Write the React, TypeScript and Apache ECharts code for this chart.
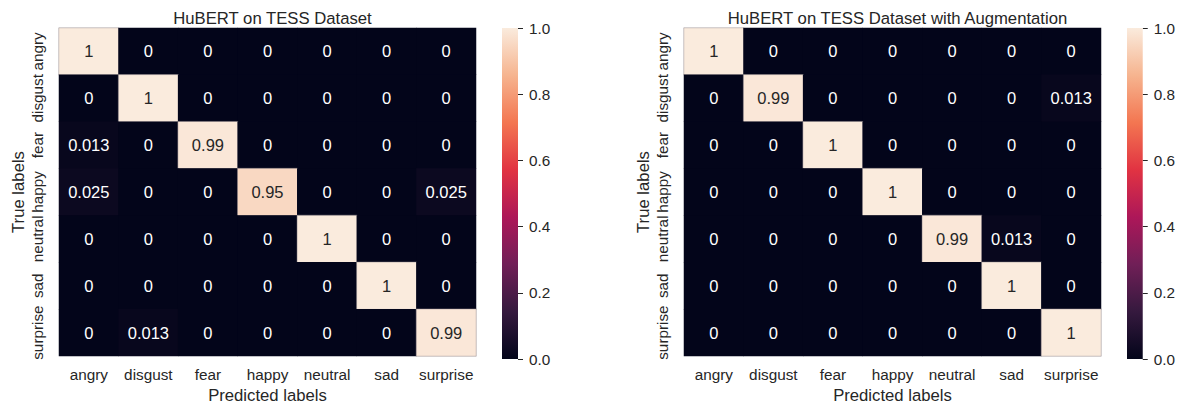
import React, { useEffect, useRef } from "react";
import * as echarts from "echarts";

const emotions = ["angry", "disgust", "fear", "happy", "neutral", "sad", "surprise"];

// Rows = true label, columns = predicted label
const baseMatrix: number[][] = [
  [1, 0, 0, 0, 0, 0, 0],
  [0, 1, 0, 0, 0, 0, 0],
  [0.013, 0, 0.99, 0, 0, 0, 0],
  [0.025, 0, 0, 0.95, 0, 0, 0.025],
  [0, 0, 0, 0, 1, 0, 0],
  [0, 0, 0, 0, 0, 1, 0],
  [0, 0.013, 0, 0, 0, 0, 0.99],
];

const augMatrix: number[][] = [
  [1, 0, 0, 0, 0, 0, 0],
  [0, 0.99, 0, 0, 0, 0, 0.013],
  [0, 0, 1, 0, 0, 0, 0],
  [0, 0, 0, 1, 0, 0, 0],
  [0, 0, 0, 0, 0.99, 0.013, 0],
  [0, 0, 0, 0, 0, 1, 0],
  [0, 0, 0, 0, 0, 0, 1],
];

const titles = ["HuBERT on TESS Dataset", "HuBERT on TESS Dataset with Augmentation"];
const colorbarTicks = [0, 0.2, 0.4, 0.6, 0.8, 1.0];

// seaborn "rocket" colormap
const rocket = ["#03051a", "#35193e", "#701f57", "#ad1759", "#e13342", "#f37651", "#f6b48f", "#faebdd"];

const FONT = '"Liberation Sans", Arial, sans-serif';
const INK = "#262626";

function cellData(matrix: number[][]) {
  const out: any[] = [];
  matrix.forEach((row, r) => {
    row.forEach((v, c) => {
      const light = v > 0.5;
      out.push({
        value: [c, r, v],
        label: { color: light ? INK : "#ffffff" },
        itemStyle: light ? { borderColor: "rgba(140,130,135,0.8)", borderWidth: 0.6 } : {},
      });
    });
  });
  return out;
}

const fmt = (v: number) => String(Number(v.toPrecision(2)));

export default function App() {
  const ref = useRef<HTMLDivElement>(null);

  useEffect(() => {
    if (!ref.current) return;
    const chart = echarts.init(ref.current, undefined, { renderer: "svg" });

    const heatGrids = [
      { left: 59, top: 28, width: 417, height: 331, show: true, backgroundColor: rocket[0], borderWidth: 0 },
      { left: 684, top: 28, width: 417, height: 331, show: true, backgroundColor: rocket[0], borderWidth: 0 },
    ];
    const barGrids = [
      { left: 502, top: 28, width: 16, height: 331 },
      { left: 1127, top: 28, width: 16, height: 331 },
    ];

    const xAxes: any[] = [];
    const yAxes: any[] = [];
    const series: any[] = [];

    [baseMatrix, augMatrix].forEach((m, i) => {
      xAxes.push({
        type: "category",
        gridIndex: i,
        data: emotions,
        axisLine: { show: false },
        axisTick: { show: false },
        splitLine: { show: false },
        axisLabel: { interval: 0, color: INK, fontSize: 15.3, fontFamily: FONT, margin: 11 },
        name: "Predicted labels",
        nameLocation: "middle",
        nameGap: 31,
        nameTextStyle: { color: INK, fontSize: 16.7, fontFamily: FONT },
      });
      yAxes.push({
        type: "category",
        gridIndex: i,
        data: emotions,
        inverse: true,
        axisLine: { show: false },
        axisTick: { show: false },
        splitLine: { show: false },
        axisLabel: { interval: 0, color: INK, fontSize: 15.3, fontFamily: FONT, rotate: 90, margin: 14 },
        name: "True labels",
        nameLocation: "middle",
        nameGap: 32,
        nameTextStyle: { color: INK, fontSize: 16.7, fontFamily: FONT },
      });
      series.push({
        type: "heatmap",
        xAxisIndex: i,
        yAxisIndex: i,
        data: cellData(m),
        label: {
          show: true,
          fontSize: 16.5,
          fontFamily: FONT,
          formatter: (p: any) => fmt(p.value[2]),
        },
        emphasis: { disabled: true },
      });
    });

    // colorbars
    [0, 1].forEach((k) => {
      const gi = 2 + k;
      xAxes.push({
        type: "category",
        gridIndex: gi,
        data: ["cb"],
        show: false,
      });
      yAxes.push({
        type: "value",
        gridIndex: gi,
        min: 0,
        max: 1,
        interval: 0.2,
        position: "right",
        axisLine: { show: false },
        splitLine: { show: false },
        axisTick: { show: true, length: 5, lineStyle: { color: INK, width: 1 } },
        axisLabel: {
          color: INK,
          fontSize: 15.3,
          fontFamily: FONT,
          margin: 11,
          formatter: (v: number) => (colorbarTicks.some((t) => Math.abs(t - v) < 1e-9) ? v.toFixed(1) : ""),
        },
      });
      series.push({
        type: "bar",
        xAxisIndex: gi,
        yAxisIndex: gi,
        barWidth: "100%",
        data: [1],
        silent: true,
        itemStyle: {
          color: new echarts.graphic.LinearGradient(
            0,
            0,
            0,
            1,
            rocket
              .slice()
              .reverse()
              .map((c, idx) => ({ offset: idx / (rocket.length - 1), color: c }))
          ),
        },
      });
    });

    chart.setOption({
      animation: false,
      backgroundColor: "#ffffff",
      title: titles.map((t, i) => ({
        text: t,
        left: heatGrids[i].left + heatGrids[i].width / 2,
        textAlign: "center",
        top: 5,
        textStyle: { color: INK, fontSize: 16.7, fontWeight: "normal", fontFamily: FONT },
      })),
      grid: [...heatGrids, ...barGrids],
      xAxis: xAxes,
      yAxis: yAxes,
      visualMap: {
        show: false,
        type: "continuous",
        min: 0,
        max: 1,
        dimension: 2,
        seriesIndex: [0, 1],
        inRange: { color: rocket },
      },
      series,
    });

    return () => chart.dispose();
  }, []);

  return (
    <div
      ref={ref}
      style={{ position: "absolute", left: 0, top: 0, width: 1178, height: 409 }}
    />
  );
}
